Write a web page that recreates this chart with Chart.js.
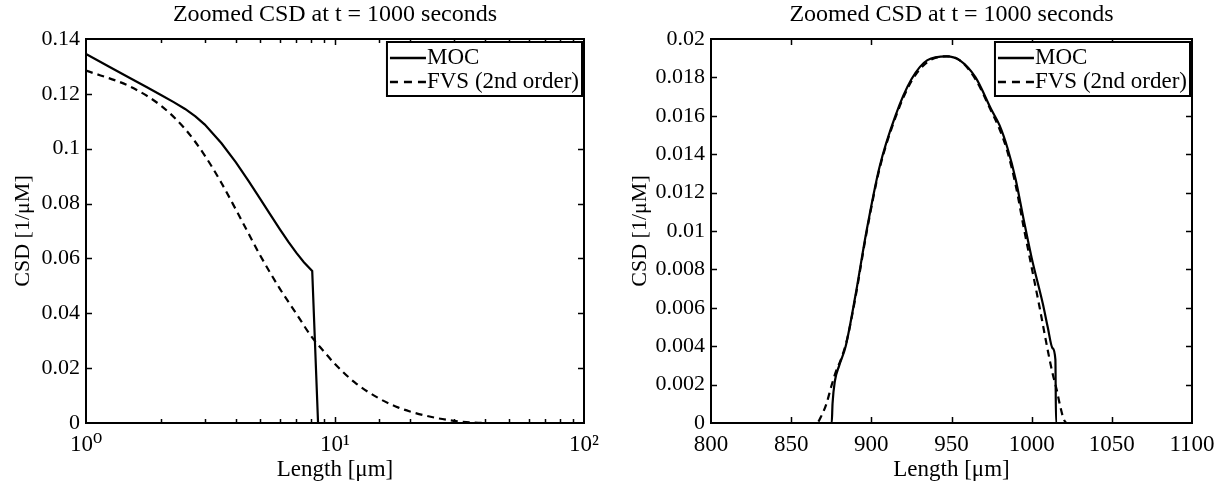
<!DOCTYPE html>
<html>
<head>
<meta charset="utf-8">
<script src="https://cdn.jsdelivr.net/npm/chart.js@4.4.1/dist/chart.umd.min.js"></script>
<style>
  html, body { margin: 0; padding: 0; background: #fff; }
  #wrap { position: relative; width: 1223px; height: 486px; overflow: hidden; }
  #c1 { position: absolute; left: 0; top: 0; }
  #c2 { position: absolute; left: 612px; top: 0; }
</style>
</head>
<body>
<div id="wrap">
  <canvas id="c1" width="610" height="486"></canvas>
  <canvas id="c2" width="611" height="486"></canvas>
</div>
<script>
// ---------- DATA ----------
const titleText = 'Zoomed CSD at t = 1000 seconds';
const xTitle = 'Length [\u03BCm]';
const yTitle = 'CSD [1/\u03BCM]';
const seriesNames = ['MOC', 'FVS (2nd order)'];

// Left panel (log x)
const leftMocX = [1, 1.25, 1.5, 1.75, 2, 2.25, 2.5, 2.75, 3, 3.5, 4, 4.5, 5, 5.5, 6, 6.5, 7, 7.5, 8.1, 8.55, 10, 100];
const leftMocY = [0.1345, 0.1297, 0.1258, 0.1225, 0.1196, 0.1170, 0.1145, 0.1118, 0.1088, 0.1020, 0.0950, 0.0882, 0.0818, 0.0760, 0.0707, 0.0660, 0.0620, 0.0586, 0.0554, 0, 0, 0];
const leftFvsX = [1, 1.5, 2, 2.5, 3, 3.5, 4, 4.5, 5, 6, 7, 8, 9, 10, 12, 15, 18, 20, 25, 30, 35, 40, 100];
const leftFvsY = [0.1285, 0.1227, 0.1157, 0.1072, 0.0975, 0.0875, 0.0778, 0.0690, 0.0612, 0.0490, 0.0398, 0.0318, 0.0262, 0.0215, 0.0148, 0.0090, 0.0056, 0.0042, 0.0020, 0.0008, 0.0002, 0, 0];
const leftXTickLabels = {1: '10\u2070', 10: '10\u00B9', 100: '10\u00B2'};

// Right panel (linear x)
const rightMocX = [800, 875.3, 875.8, 877.3, 880, 884, 890, 897, 905, 915, 925, 935, 947, 955, 965, 975, 980, 985, 990, 995, 1000, 1007, 1010, 1013, 1014.8, 1015.2, 1100];
const rightMocY = [0, 0, 0.0010, 0.0022, 0.0030, 0.0040, 0.0066, 0.0100, 0.0133, 0.0160, 0.0179, 0.0189, 0.0191, 0.0189, 0.0180, 0.0163, 0.0155, 0.0143, 0.0127, 0.0106, 0.0086, 0.0062, 0.0050, 0.0039, 0.0033, 0, 0];
const rightFvsX = [800, 866, 869, 872, 875, 878, 881, 885, 890, 897, 905, 915, 925, 935, 947, 955, 965, 975, 980, 985, 990, 995, 1000, 1005, 1010, 1013, 1015.7, 1018, 1020, 1022, 1100];
const rightFvsY = [0, 0, 0.0004, 0.0010, 0.0019, 0.0027, 0.0033, 0.0044, 0.0065, 0.0099, 0.0132, 0.0159, 0.0178, 0.0188, 0.0191, 0.0189, 0.0179, 0.0162, 0.0153, 0.0141, 0.0124, 0.0102, 0.0081, 0.0060, 0.0038, 0.0026, 0.0017, 0.0008, 0.0002, 0, 0];

// ---------- HELPERS ----------
const FONT = '"Liberation Serif", "Times New Roman", "DejaVu Serif", serif';
Chart.defaults.font.family = FONT;
Chart.defaults.font.size = 22;
Chart.defaults.color = '#000';

function pts(xs, ys) { return xs.map((x, i) => ({x: x, y: ys[i]})); }
function fmt(v) { return String(+Number(v).toFixed(5)); }

const framePlugin = {
  id: 'frameTicks',
  afterDatasetsDraw(chart) {
    const {ctx, chartArea: a, scales} = chart;
    const xs = scales.x, ys = scales.y;
    ctx.save();
    ctx.strokeStyle = '#000';
    ctx.lineWidth = 1.5;
    ctx.beginPath();
    xs.ticks.forEach(t => {
      const px = Math.round(xs.getPixelForValue(t.value)) + 0.5;
      if (px < a.left + 1 || px > a.right - 1) return;
      const len = (xs.type === 'logarithmic' && !t.label) ? 4 : 6;
      ctx.moveTo(px, a.bottom); ctx.lineTo(px, a.bottom - len);
      ctx.moveTo(px, a.top); ctx.lineTo(px, a.top + len);
    });
    ys.ticks.forEach(t => {
      const py = Math.round(ys.getPixelForValue(t.value)) + 0.5;
      if (py < a.top + 1 || py > a.bottom - 1) return;
      ctx.moveTo(a.left, py); ctx.lineTo(a.left + 6, py);
      ctx.moveTo(a.right, py); ctx.lineTo(a.right - 6, py);
    });
    ctx.stroke();
    ctx.lineWidth = 2;
    ctx.strokeRect(a.left, a.top, a.right - a.left, a.bottom - a.top);
    ctx.restore();
  }
};

const boxLegend = {
  id: 'boxLegend',
  afterDraw(chart) {
    const {ctx, chartArea: a} = chart;
    const ds = chart.data.datasets;
    ctx.save();
    ctx.font = '23px ' + FONT;
    let tw = 0;
    ds.forEach(d => { tw = Math.max(tw, ctx.measureText(d.label).width); });
    const sample = 36, padL = 3, gap = 1, padR = 3, rowH = 24;
    const w = padL + sample + gap + tw + padR;
    const h = rowH * ds.length + 6;
    const right = a.right - 2, top = a.top + 3;
    const left = right - w;
    ctx.fillStyle = '#fff';
    ctx.fillRect(left, top, w, h);
    ctx.strokeStyle = '#000';
    ctx.lineWidth = 2;
    ctx.strokeRect(left, top, w, h);
    ds.forEach((d, i) => {
      const cy = top + 3 + rowH * i + rowH / 2 + 1;
      ctx.beginPath();
      ctx.setLineDash(d.borderDash ? [8, 6] : []);
      ctx.lineWidth = 2.5;
      ctx.moveTo(left + padL, cy); ctx.lineTo(left + padL + sample, cy);
      ctx.stroke();
      ctx.setLineDash([]);
      ctx.fillStyle = '#000';
      ctx.textBaseline = 'middle';
      ctx.textAlign = 'left';
      ctx.fillText(d.label, left + padL + sample + gap, cy);
    });
    ctx.restore();
  }
};

function makeChart(canvasId, cfg) {
  return new Chart(document.getElementById(canvasId), {
    type: 'line',
    data: {
      datasets: [
        Object.assign({ label: seriesNames[0], data: pts(cfg.mocX, cfg.mocY), borderColor: '#000', borderWidth: 2.2,
          pointRadius: 0, fill: false }, cfg.mocStyle),
        { label: seriesNames[1], data: pts(cfg.fvsX, cfg.fvsY), borderColor: '#000', borderWidth: 2.2,
          borderDash: [7, 5], pointRadius: 0, cubicInterpolationMode: 'monotone', fill: false }
      ]
    },
    options: {
      responsive: false,
      animation: false,
      devicePixelRatio: 1,
      layout: { padding: { left: 0, right: cfg.padRight, top: 0, bottom: 0 } },
      plugins: {
        legend: { display: false },
        tooltip: { enabled: false },
        title: { display: true, text: titleText, color: '#000', fullSize: false,
                 font: { size: 24, weight: 'normal', family: FONT, lineHeight: 1.2 },
                 padding: { top: 0, bottom: 10.2 } }
      },
      scales: {
        x: Object.assign({
          grid: { display: false, drawTicks: false },
          border: { display: false },
          title: { display: true, text: xTitle, font: { size: 23, family: FONT, lineHeight: 1.2 },
                   padding: { top: 0, bottom: 2 } },
          afterFit: s => { s.height = 63; }
        }, cfg.xScale),
        y: {
          type: 'linear',
          min: 0, max: cfg.yMax,
          grid: { display: false, drawTicks: false },
          border: { display: false },
          ticks: { stepSize: cfg.yStep, padding: 6, callback: v => fmt(v), font: { size: 22, family: FONT } },
          title: { display: true, text: yTitle, font: { size: 22, family: FONT, lineHeight: 1.2 },
                   padding: { top: cfg.yTitlePad, bottom: 0 } },
          afterFit: s => { s.width = cfg.yWidth; }
        }
      }
    },
    plugins: [framePlugin, boxLegend]
  });
}

makeChart('c1', {
  mocX: leftMocX, mocY: leftMocY, fvsX: leftFvsX, fvsY: leftFvsY,
  mocStyle: { tension: 0 },
  yMax: 0.14, yStep: 0.02, yWidth: 86, padRight: 26, yTitlePad: 10,
  xScale: {
    type: 'logarithmic', min: 1, max: 100,
    ticks: { autoSkip: false, maxRotation: 0, padding: 8, font: { size: 23, family: FONT },
             callback: v => leftXTickLabels[v] || '' }
  }
});

makeChart('c2', {
  mocX: rightMocX, mocY: rightMocY, fvsX: rightFvsX, fvsY: rightFvsY,
  mocStyle: { cubicInterpolationMode: 'monotone' },
  yMax: 0.02, yStep: 0.002, yWidth: 99, padRight: 31, yTitlePad: 15,
  xScale: {
    type: 'linear', min: 800, max: 1100,
    ticks: { stepSize: 50, autoSkip: false, maxRotation: 0, padding: 8, font: { size: 23, family: FONT },
             callback: v => String(v) }
  }
});
</script>
</body>
</html>
